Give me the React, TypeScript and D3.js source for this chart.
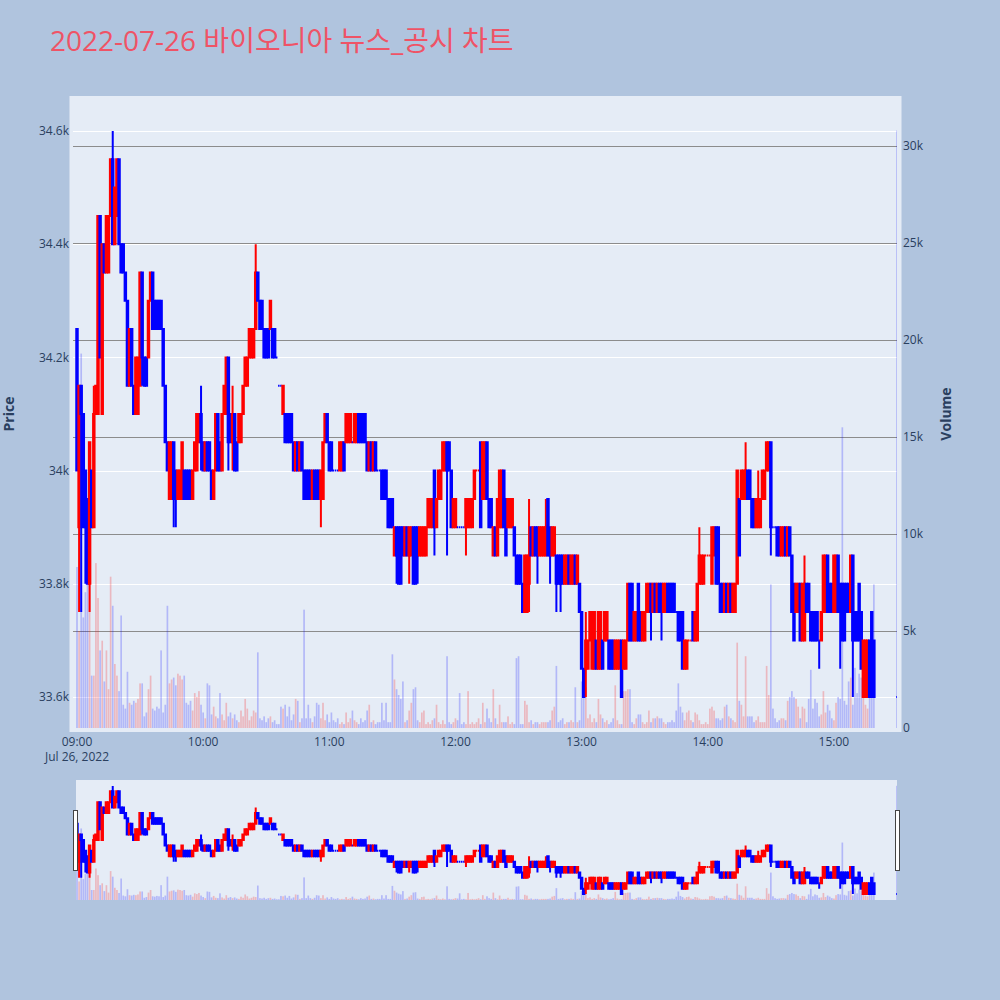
import React from "react";
import * as d3 from "d3";

const TITLE = "2022-07-26 바이오니아 뉴스_공시 차트";

// one letter per minute: "a" = 33,500 won, every next letter is one 50 won tick higher
const PRICE_BASE = 33500;
const PRICE_TICK = 50;

// 09:00 .. 15:19, groups of ten minutes
const opens = `pinmkjgkim mtmsrrtvst vssrqnpnmm nroooqrqqq qpnljjlkjj jkkkkjkklm lkllkjkmlk mmomlmlllm
nnoooprqqp ppppponnmm mmmlklklkk kkjkkkjjlm llkkkkklll llllmmmmlk lklkkkkkjj jhiiiihihh iiihhhhiii
kijjkkllki iiiiiiiiij kkljjljjhi hiikjiiiih hhgffgihii hhhhjihhhh hhgghgghgg fdddeddedd eeeeeeddde
ddeggeegfe effgfgfggf fggggffffd deefeegggh hhghiiggfg fgffgjjjjk kjjiiijjkk liiiihhihi hgffgeeggf
fffeeffhgg ffhgggggfh ffgfcccefe`;

const closes = `knmiiglimn tosrttvsuv srrqnpnmoo ronnqrpppp pnlklljjkk ljjjjklmml klkkjkmkkm nollmkkmmn
ooppprqppo ooqooonnnl lllklklkjj jjkjjjklml kkkkkllkmm mlmmllllkl klkkkjjjii iihgghihii gghiiiijjj
ijkkllkkij jiiiijjjjk kkilljiiih jkkihjjjhg ggfhhhhihh iiiihhiigg gghhghhghf dceefffdff dffdddeeec
eegeeffeef fggfgfgffg gfffffeede eeeefghhhh hhiiggffgf gfggkhkkkj jiijjjkkll iiihhiihih feggeggffe
eeeefhhfff hhffeeffhe eeedeeeccc`;

const highs = `pnnmkjlknn ttssttvwuv vssrqppnoo rrooqrrqqq qpnllllkkk lkkkkklmmn llllkkmmlm noomnmlmmn
oopppsrqqp ppqpponnnm mmmlllllkk kkkkkkklmm llkkklllmm mlmmmmmmll lllkkkkkjj jiiiiiiiii iiiiiiijjj
kjkkllllkj jiiiijjjjk kklllljjii jkkkjjjjih hhghhjiiii iiijjiiihh hhhhhhhhhg fdfefffeff effeeeeeee
eegggffgff fggggggggg gggggffffe eeeffgihhh hhiiiigggg ggggkjkklk kjjjkjkkll liiiiiiiii hggggghggf
fffefhhhgg hhhggggghh ffgfeeeefe`;

const lows = `kffiggfiim momrrrtsst srrqnnnmmm nnnnoqpppp pnlkjjiijj jjjjjjkklk kkkkjjkkkk mmklkkkllm
nnooopqppo oopooonnml lllkkkkkjj jjjjjjijll kkkkkkkkll llllllllkk kkkkkjjjii ihggghhhgh ggghhhhiii
hijjkkhkii iiiiihiiij kkijjjiihh hiiihiiihg ggffffhhhg hhhhhghhfg fggggggggf dccdeddddd deeddddddc
ddeeeeeeee effeffffef ffffffeedd deeeeegggh hhghggffff ffffghjjjj jiiiiijjkk hiihhhhhhh feffeeeffe
eeedefffff fffdeefffc eeedcccccc`;

const volumes = [
  8300, 5000, 19300, 5700, 7000, 8600, 7500, 2700, 2700, 8500,
  6700, 4000, 4500, 2400, 4000, 2000, 7800, 6300, 3300, 2700,
  1900, 5800, 1200, 1000, 2900, 1300, 1200, 1400, 1300, 1500,
  2300, 2300, 600, 800, 2000, 2700, 1000, 900, 1100, 1000,
  4000, 800, 1200, 6300, 2300, 2500, 2600, 2200, 2800, 2700,
  2500, 2700, 1300, 1200, 1400, 900, 1800, 1600, 1900, 1200,
  800, 500, 2300, 2200, 700, 1100, 600, 500, 1800, 700,
  400, 1300, 600, 800, 500, 700, 400, 300, 900, 600,
  1500, 1000, 400, 600, 900, 800, 3900, 500, 400, 600,
  300, 500, 600, 300, 400, 200, 200, 1100, 1000, 1200,
  600, 1100, 400, 700, 1500, 1400, 300, 500, 6100, 500,
  1200, 500, 300, 600, 1300, 1200, 500, 1300, 400, 700,
  300, 800, 400, 300, 500, 200, 300, 200, 800, 300,
  500, 900, 400, 300, 200, 500, 300, 400, 900, 1200,
  300, 400, 200, 300, 300, 1300, 400, 1300, 300, 300,
  3800, 2500, 2000, 1700, 1500, 2400, 300, 400, 900, 1300,
  2000, 2100, 400, 300, 800, 900, 200, 300, 200, 400,
  500, 1200, 300, 200, 400, 200, 3700, 300, 200, 300,
  500, 400, 1800, 200, 300, 200, 1900, 200, 300, 200,
  300, 500, 200, 1300, 300, 1000, 500, 300, 2000, 500,
  200, 1200, 300, 300, 300, 600, 200, 300, 200, 3600,
  3700, 200, 200, 1400, 1200, 300, 400, 200, 300, 300,
  200, 300, 300, 300, 300, 400, 900, 1100, 3200, 300,
  400, 500, 200, 300, 300, 400, 300, 2100, 300, 400,
  2400, 3000, 2100, 500, 700, 300, 500, 300, 1500, 700,
  500, 300, 400, 200, 300, 500, 2200, 400, 200, 200,
  1900, 1900, 2000, 2000, 300, 200, 500, 700, 700, 300,
  200, 300, 900, 300, 500, 500, 600, 500, 500, 300,
  200, 300, 300, 400, 300, 900, 2300, 1100, 800, 400,
  800, 900, 400, 300, 800, 700, 400, 200, 200, 300,
  200, 1000, 1100, 900, 500, 500, 400, 500, 1100, 1200,
  600, 500, 400, 300, 4400, 1400, 1200, 600, 3700, 600,
  600, 600, 300, 400, 600, 300, 300, 300, 3200, 1700,
  7400, 1000, 500, 300, 400, 500, 500, 400, 1400, 1600,
  1900, 1600, 1500, 1100, 500, 1100, 1000, 300, 1500, 3000,
  1000, 1500, 1300, 600, 700, 1900, 800, 1200, 900, 500,
  400, 1300, 1600, 1500, 15500, 1400, 1200, 2400, 2600, 1200,
  3100, 1800, 2800, 2600, 2400, 1200, 1000, 1800, 3000, 7400,
];

// 15:30 closing single price auction
const closingMinute = 390;
const closingPrice = 33600;
const closingVolume = 30800;

const priceTicks = [33600, 33800, 34000, 34200, 34400, 34600];
const volumeTicks = [5000, 10000, 15000, 20000, 25000, 30000];
const volumeLabels = [0, 5000, 10000, 15000, 20000, 25000, 30000];

const INC = "#ff0000";
const DEC = "#0000ff";
const FONT = '"Open Sans", verdana, arial, sans-serif';
const TEXT = "#2a3f5f";

type Candle = {
  time: Date;
  open: number;
  high: number;
  low: number;
  close: number;
  volume: number;
  up: boolean;
};

const decode = (s: string) =>
  s
    .replace(/\s+/g, "")
    .split("")
    .map((ch) => PRICE_BASE + (ch.charCodeAt(0) - 97) * PRICE_TICK);

const day0 = new Date(2022, 6, 26, 9, 0).getTime();
const at = (minute: number) => new Date(day0 + minute * 60000);

const buildCandles = (): Candle[] => {
  const o = decode(opens);
  const c = decode(closes);
  const h = decode(highs);
  const l = decode(lows);
  const rows = o.map((open, i) => ({
    time: at(i),
    open,
    close: c[i],
    high: Math.max(h[i], open, c[i]),
    low: Math.min(l[i], open, c[i]),
    volume: volumes[i] ?? 0,
  }));
  rows.push({
    time: at(closingMinute),
    open: closingPrice,
    close: closingPrice,
    high: closingPrice,
    low: closingPrice,
    volume: closingVolume,
  });

  // plotly's rule: a doji takes its colour from the move against the previous close
  let prevUp = true;
  let prevClose: number | null = null;
  return rows.map((r) => {
    if (r.open === r.close) {
      if (prevClose !== null && r.close > prevClose) prevUp = true;
      else if (prevClose !== null && r.close < prevClose) prevUp = false;
    } else prevUp = r.open < r.close;
    prevClose = r.close;
    return { ...r, up: prevUp };
  });
};

const candles = buildCandles();

// plot frame
const margin = { left: 73, right: 897, top: 100, bottom: 728 };
const slider = { left: 76, right: 897, top: 780, bottom: 900 };

const x = d3
  .scaleTime()
  .domain([at(-1.9), at(closingMinute)])
  .range([margin.left, margin.right]);
const minutePx = x(at(1)) - x(at(0));

const priceDomain: [number, number] = [33545.2, 34654.8];
const volumeDomain: [number, number] = [0, 32371];

const y = d3.scaleLinear().domain(priceDomain).range([margin.bottom, margin.top]);
const yVol = d3.scaleLinear().domain(volumeDomain).range([margin.bottom, margin.top]);
const yMini = d3.scaleLinear().domain(priceDomain).range([slider.bottom, slider.top]);
const yMiniVol = d3.scaleLinear().domain(volumeDomain).range([slider.bottom, slider.top]);

const candlePath = (d: Candle, ys: d3.ScaleLinear<number, number>) => {
  const cx = x(d.time);
  const half = (minutePx * 0.7) / 2;
  const yo = ys(d.open);
  const yc = ys(d.close);
  const top = Math.min(yo, yc);
  const bot = Math.max(yo, yc);
  return (
    `M${cx - half},${yo}H${cx + half}V${yc}H${cx - half}Z` +
    `M${cx},${top}V${ys(d.high)}M${cx},${bot}V${ys(d.low)}`
  );
};

const Series = ({
  ys,
  yv,
  clip,
}: {
  ys: d3.ScaleLinear<number, number>;
  yv: d3.ScaleLinear<number, number>;
  clip: string;
}) => {
  const bw = minutePx * 0.8;
  return (
    <g clipPath={`url(#${clip})`}>
      {candles.map((d, i) => (
        <rect
          key={"v" + i}
          x={x(d.time) - bw / 2}
          y={yv(d.volume)}
          width={bw}
          height={Math.max(0, yv(0) - yv(d.volume))}
          fill={d.up ? INC : DEC}
          fillOpacity={0.22}
        />
      ))}
      {candles.map((d, i) => (
        <path
          key={"c" + i}
          d={candlePath(d, ys)}
          fill={d.up ? INC : DEC}
          stroke={d.up ? INC : DEC}
          strokeWidth={2}
        />
      ))}
    </g>
  );
};

const App = () => {
  const hourTicks = x.ticks(d3.timeHour.every(1) as d3.TimeInterval);
  const fmtHour = d3.timeFormat("%H:%M");
  const fmtDay = d3.timeFormat("%b %d, %Y");
  const fmtPrice = d3.format(".3~s");
  const fmtVol = d3.format("~s");

  return (
    <svg
      width={1000}
      height={1000}
      style={{ position: "absolute", left: 0, top: 0 }}
      fontFamily={FONT}
    >
      <defs>
        <clipPath id="plot-clip">
          <rect
            x={margin.left}
            y={margin.top}
            width={margin.right - margin.left}
            height={margin.bottom - margin.top}
          />
        </clipPath>
        <clipPath id="slider-clip">
          <rect
            x={slider.left}
            y={slider.top}
            width={slider.right - slider.left}
            height={slider.bottom - slider.top}
          />
        </clipPath>
      </defs>

      <rect width={1000} height={1000} fill="#b0c4de" />

      <text
        x={50}
        y={51}
        fontSize={28}
        fill="#ef5366"
        fontFamily={'"Open Sans", "Noto Sans CJK KR", sans-serif'}
      >
        {TITLE}
      </text>

      {/* plot background */}
      <rect x={69.5} y={96} width={832} height={636} fill="#e5ecf6" />

      {/* price grid */}
      {priceTicks.map((p) => (
        <line
          key={"pg" + p}
          x1={margin.left}
          x2={margin.right}
          y1={Math.round(y(p)) + 0.5}
          y2={Math.round(y(p)) + 0.5}
          stroke="#ffffff"
          strokeWidth={1}
        />
      ))}
      {/* volume grid */}
      {volumeTicks.map((v) => (
        <line
          key={"vg" + v}
          x1={margin.left}
          x2={margin.right}
          y1={Math.round(yVol(v)) + 0.5}
          y2={Math.round(yVol(v)) + 0.5}
          stroke="#8c8c8c"
          strokeWidth={1}
        />
      ))}

      <Series ys={y} yv={yVol} clip="plot-clip" />

      {/* left axis labels */}
      {priceTicks.map((p) => (
        <text
          key={"pl" + p}
          x={69}
          y={y(p)}
          dy="0.35em"
          textAnchor="end"
          fontSize={12}
          fill={TEXT}
        >
          {fmtPrice(p)}
        </text>
      ))}
      {/* right axis labels */}
      {volumeLabels.map((v) => (
        <text
          key={"vl" + v}
          x={903}
          y={yVol(v)}
          dy="0.35em"
          fontSize={12}
          fill={TEXT}
        >
          {fmtVol(v)}
        </text>
      ))}
      {/* time axis labels */}
      {hourTicks.map((t, i) => (
        <text
          key={"xl" + i}
          x={x(t)}
          y={746}
          textAnchor="middle"
          fontSize={12}
          fill={TEXT}
        >
          {fmtHour(t)}
          {i === 0 && (
            <tspan x={x(t)} dy={15}>
              {fmtDay(t)}
            </tspan>
          )}
        </text>
      ))}

      <text
        transform="translate(14,414) rotate(-90)"
        textAnchor="middle"
        fontSize={14}
        fontWeight="bold"
        fill={TEXT}
      >
        Price
      </text>
      <text
        transform="translate(951,414) rotate(-90)"
        textAnchor="middle"
        fontSize={14}
        fontWeight="bold"
        fill={TEXT}
      >
        Volume
      </text>

      {/* range slider */}
      <rect
        x={slider.left}
        y={slider.top}
        width={slider.right - slider.left}
        height={slider.bottom - slider.top}
        fill="#e5ecf6"
      />
      <Series ys={yMini} yv={yMiniVol} clip="slider-clip" />
      <rect x={73.5} y={810.5} width={4} height={60} fill="#ffffff" stroke="#444444" />
      <rect x={895.5} y={810.5} width={4} height={60} fill="#ffffff" stroke="#444444" />
    </svg>
  );
};

export default App;
